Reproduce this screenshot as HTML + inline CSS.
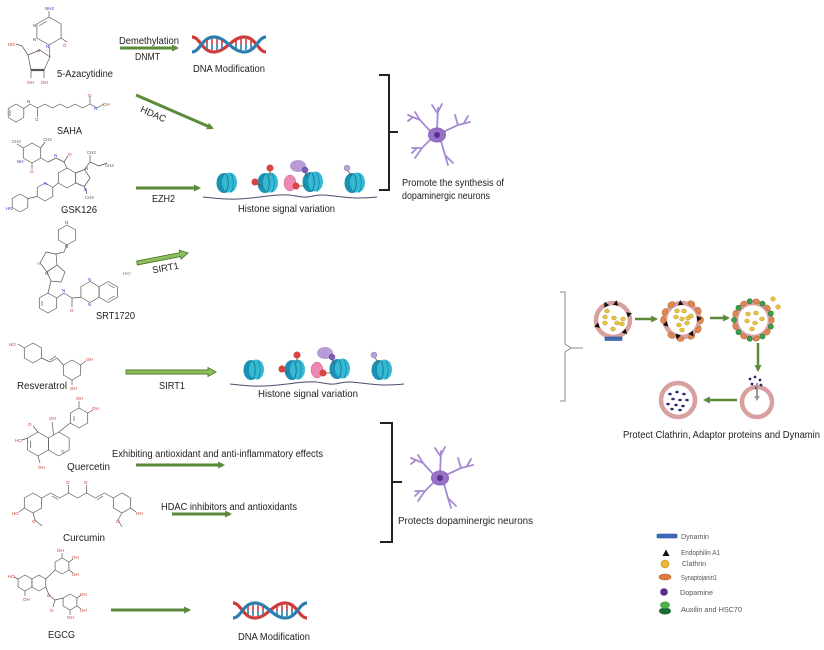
<!DOCTYPE html>
<html><head><meta charset="utf-8"><style>
html,body{margin:0;padding:0;background:#fff;}
svg{display:block;}
text{font-family:"Liberation Sans",Arial,sans-serif;}
</style></head><body>
<svg width="824" height="650" viewBox="0 0 824 650" xmlns="http://www.w3.org/2000/svg">
<defs>
<marker id="ah" viewBox="0 0 10 10" refX="7" refY="5" markerWidth="7" markerHeight="7" markerUnits="userSpaceOnUse" orient="auto"><path d="M0,0 L10,5 L0,10 z" fill="#5a8a3a"/></marker>
<g id="nuc">
 <ellipse cx="-3" cy="0" rx="7.5" ry="10" fill="#1a90b2"/>
 <ellipse cx="2.5" cy="-0.5" rx="7.5" ry="10" fill="#36bad4"/>
 <path d="M-1,-9.5 Q3.5,0 -1,9.5" stroke="#137a9c" stroke-width="1" fill="none"/>
 <path d="M4,-9.5 Q8.5,0 4,9.5" stroke="#1a88aa" stroke-width="0.8" fill="none"/>
</g>
<g id="neuron" stroke="#a58ad2" stroke-width="1.8" stroke-linecap="round" fill="none">
 <path d="M0,-5 L1,-27 M1,-21 L-5,-30 M1,-23 L5,-31"/>
 <path d="M-6,-3 L-17,-15 L-29,-20 M-17,-15 L-22,-23 M-24,-18 L-29,-14"/>
 <path d="M6,-3 L21,-10 L33,-13 M21,-10 L18,-20 M27,-12 L31,-19"/>
 <path d="M-6,4 L-15,13 L-25,13 M-15,13 L-22,23 M-20,13 L-25,18"/>
 <path d="M4,6 L8,20 L11,30 M8,20 L16,28"/>
 <ellipse cx="0" cy="0" rx="8.5" ry="7" fill="#9472c6" stroke="#8a66bf" stroke-width="1"/>
 <circle cx="0" cy="0" r="3" fill="#5b2f8f" stroke="none"/>
</g>
<g id="dna">
 <path d="M0,2 C8,2 10,17 22,17 S40,2 52,2 S66,17 74,17" stroke="#d03a3a" stroke-width="3.2" fill="none"/>
 <path d="M0,17 C8,17 10,2 22,2 S40,17 52,17 S66,2 74,2" stroke="#2a7fb0" stroke-width="3.2" fill="none"/>
 <g stroke-width="1.6">
  <path d="M15,5 V9.5 M20,4 V9.5 M25,4 V9.5 M30,5 V9.5 M44,5 V9.5 M49,4 V9.5 M54,4 V9.5 M59,5 V9.5" stroke="#d03a3a"/>
  <path d="M15,9.5 V14 M20,9.5 V15 M25,9.5 V15 M30,9.5 V14 M44,9.5 V14 M49,9.5 V15 M54,9.5 V15 M59,9.5 V14" stroke="#2a7fb0"/>
 </g>
</g>
<g id="histrow">
 <path d="M0,14 C25,17 35,17 65,13 S95,17 110,13 S140,18 174,14" stroke="#4a4a6a" stroke-width="1" fill="none"/>
 <use href="#nuc" x="24" y="0"/>
 <use href="#nuc" x="65" y="0"/>
 <use href="#nuc" x="110" y="-1"/>
 <use href="#nuc" x="152" y="0"/>
 <path d="M55,1 L59,3 M67,-12 L67,-7" stroke="#555" stroke-width="0.8"/>
 <circle cx="52" cy="-1" r="3.5" fill="#d64541"/>
 <circle cx="67" cy="-15" r="3.5" fill="#d64541"/>
 <ellipse cx="87" cy="0" rx="6" ry="8" fill="#ee88b0" stroke="#c86890" stroke-width="0.5"/>
 <path d="M96,3 L102,3 M102,-10 L105,-6 M145,-12 L149,-7" stroke="#555" stroke-width="0.8"/>
 <circle cx="93" cy="3" r="3.5" fill="#d64541"/>
 <ellipse cx="95" cy="-17" rx="8" ry="6" fill="#b79ad6"/>
 <circle cx="102" cy="-13" r="3" fill="#7e5cb0" stroke="#5a3a90" stroke-width="0.5"/>
 <circle cx="144" cy="-15" r="3" fill="#b7a2d6" stroke="#8a74b0" stroke-width="0.5"/>
</g>
</defs>

<!-- ============ MOLECULES ============ -->
<g stroke="#555" stroke-width="0.7" fill="none" stroke-linejoin="round">
 <!-- 5-Azacytidine -->
 <polygon points="49,17 61.1,24 61.1,38 49,45 36.9,38 36.9,24"/>
 <path d="M49,17 L49,11 M61.1,38 L67,42 M49,45 L50,57 M28,55 L40,50 L50,57 M31,70 L28,55 M44,70 L50,57 M28,55 L22,46 L16,44 M31,70 L31,78 M44,70 L44,78 M39,26 L47,21"/>
 <path d="M31,70 L44,70" stroke-width="2.2"/>
 <!-- SAHA -->
 <polygon points="16,104 23.8,108.5 23.8,117.5 16,122 8.2,117.5 8.2,108.5"/>
 <path d="M23.8,108.5 L30,104 L37.5,108 L45,104 L52.5,108 L60,104 L67.5,108 L75,104 L82.5,108 L90,104 L97,108 L104,104 M37.5,108 L37.5,117 M90,104 L90,97 M10,110 L10,116"/>
 <!-- GSK126 -->
 <polygon points="32,143 40.7,148 40.7,158 32,163 23.3,158 23.3,148"/>
 <path d="M23.3,148 L17,144 M40.7,148 L45,142 M32,163 L32,169 M40.7,158 L48,162 L56,158 L64,162 L67,168 M64,162 L68,156"/>
 <polygon points="67,168 75.7,173 75.7,183 67,188 58.3,183 58.3,173"/>
 <polygon points="75.7,173 84.5,169.5 90,178 84.5,186.5 75.7,183"/>
 <path d="M84.5,169.5 L90,162 L90,155 M90,162 L99,166 L107,163 M84.5,186.5 L87,194 M58.3,183 L52.8,187.5 M37.2,196.5 L27.8,198.5"/>
 <polygon points="45,183 52.8,187.5 52.8,196.5 45,201 37.2,196.5 37.2,187.5"/>
 <polygon points="20,194 27.8,198.5 27.8,207.5 20,212 12.2,207.5 12.2,198.5"/>
 <!-- SRT1720 -->
 <polygon points="67,225 75.7,230 75.7,240 67,245 58.3,240 58.3,230"/>
 <path d="M67,245 L64,252 L56,254"/>
 <polygon points="40,263 46,252 56,254 57,265 47,272"/>
 <polygon points="47,272 57,265 65,272 61,282 51,281"/>
 <path d="M51,281 L48,293"/>
 <polygon points="48,293 56.7,298 56.7,308 48,313 39.3,308 39.3,298"/>
 <path d="M56.7,298 L64,293 L72,298 L72,307 M72,298 L80.9,297.25 M42,301 L42,306"/>
 <polygon points="90,281.5 99.1,286.75 99.1,297.25 90,302.5 80.9,297.25 80.9,286.75"/>
 <polygon points="108.2,281.5 117.3,286.75 117.3,297.25 108.2,302.5 99.1,297.25 99.1,286.75"/>
 <path d="M108.2,284.5 L114.5,288 M114.5,296 L108.2,299.5"/>
 <!-- Resveratrol -->
 <polygon points="33,343 41.7,348 41.7,358 33,363 24.3,358 24.3,348"/>
 <path d="M24.3,348 L18,344 M41.7,358 L50,362 L57,358 L63.3,365 M50,360 L56,356 M80.7,365 L86,361 M72,380 L72,385"/>
 <polygon points="72,360 80.7,365 80.7,375 72,380 63.3,375 63.3,365"/>
 <!-- Quercetin -->
 <polygon points="38,432 48.4,438 48.4,450 38,456 27.6,450 27.6,438"/>
 <polygon points="58.8,432 69.2,438 69.2,450 58.8,456 48.4,450 48.4,438"/>
 <polygon points="79,408 87.7,413 87.7,423 79,428 70.3,423 70.3,413"/>
 <path d="M58.8,432 L70.3,423 M38,432 L33,426 M53.6,435 L52,422 M79,408 L79,401 M87.7,413 L93,410 M27.6,438 L22,440 M38,456 L40,463 M30.5,441 L30.5,448 M74,416 L74,421"/>
 <!-- Curcumin -->
 <polygon points="33,493 41.7,498 41.7,508 33,513 24.3,508 24.3,498"/>
 <polygon points="122,493 130.7,498 130.7,508 122,513 113.3,508 113.3,498"/>
 <path d="M41.7,498 L50.65,493 L59.6,498 L68.55,493 L77.5,498 L86.45,493 L95.4,498 L104.35,493 L113.3,498 M52,496 L58,499.5 M97,500 L103,496 M68.55,493 L68.55,485 M86.45,493 L86.45,485 M24.3,508 L19,512 M33,513 L35,520 L42,526 M130.7,508 L136,512 M122,513 L118,520 L122,527"/>
 <!-- EGCG -->
 <polygon points="25,575 31.9,579 31.9,587 25,591 18.1,587 18.1,579"/>
 <polygon points="38.9,575 45.8,579 45.8,587 38.9,591 31.9,587 31.9,579"/>
 <polygon points="62,558 68.9,562 68.9,570 62,574 55.1,570 55.1,562"/>
 <polygon points="70,594 76.9,598 76.9,606 70,610 63.1,606 63.1,598"/>
 <path d="M45.8,579 L55.1,570 M45.8,587 L49,595 L55,600 L63.1,598 M55,600 L53,607 M62,558 L62,553 M68.9,562 L73,559 M68.9,570 L73,573 M76.9,598 L81,595 M76.9,606 L81,609 M70,610 L70,615 M18.1,579 L14,577 M25,591 L25,596"/>
</g>
<g font-size="4.5" fill="#c0392b">
 <text x="63" y="47">O</text><text x="8" y="46">HO</text><text x="27" y="84">OH</text><text x="41" y="84">OH</text><text x="37" y="52">O</text>
 <text x="35" y="121">O</text><text x="88" y="97">O</text><text x="103" y="106">OH</text>
 <text x="30" y="173">O</text><text x="68" y="156">O</text>
 <text x="70" y="312">O</text>
 <text x="9" y="346">HO</text><text x="86" y="361">OH</text><text x="70" y="390">OH</text>
 <text x="28" y="426">O</text><text x="49" y="420">OH</text><text x="76" y="400">OH</text><text x="92" y="410">OH</text><text x="15" y="442">HO</text><text x="38" y="469">OH</text><text x="61" y="453">O</text>
 <text x="66" y="484">O</text><text x="84" y="484">O</text><text x="12" y="515">HO</text><text x="136" y="515">OH</text><text x="32" y="523">O</text><text x="116" y="523">O</text>
 <text x="57" y="552">OH</text><text x="72" y="559">OH</text><text x="72" y="576">OH</text><text x="80" y="596">OH</text><text x="80" y="612">OH</text><text x="67" y="619">OH</text><text x="8" y="578">HO</text><text x="23" y="601">OH</text><text x="47" y="597">O</text><text x="50" y="612">O</text>
</g>
<g font-size="4.5" fill="#2f3fbf">
 <text x="45" y="10">NH2</text><text x="33" y="27">N</text><text x="33" y="41">N</text><text x="46" y="48">N</text>
 <text x="27" y="103">N</text><text x="94" y="110">N</text>
 <text x="17" y="163">NH</text><text x="54" y="157">N</text><text x="85" y="170">N</text><text x="84" y="191">N</text><text x="6" y="210">HN</text><text x="44" y="185">N</text>
 <text x="65" y="224">N</text><text x="65" y="248">N</text><text x="62" y="292">N</text><text x="88" y="281">N</text><text x="88" y="306">N</text><text x="45" y="275">N</text>
</g>
<g font-size="4.3" fill="#555">
 <text x="12" y="143">CH3</text><text x="43" y="141">CH3</text><text x="87" y="154">CH3</text><text x="105" y="167">CH3</text><text x="85" y="199">CH3</text><text x="37" y="265" fill="#b8a020">S</text>
</g>
<text x="123" y="275" font-size="4.5" fill="#3a9a3a">HCl</text>

<!-- ============ LABELS LEFT ============ -->
<g font-size="10" fill="#222">
 <text x="57" y="77" textLength="56" lengthAdjust="spacingAndGlyphs">5-Azacytidine</text>
 <text x="57" y="134" textLength="25" lengthAdjust="spacingAndGlyphs">SAHA</text>
 <text x="61" y="213" textLength="36" lengthAdjust="spacingAndGlyphs">GSK126</text>
 <text x="96" y="319" textLength="39" lengthAdjust="spacingAndGlyphs">SRT1720</text>
 <text x="17" y="389" textLength="50" lengthAdjust="spacingAndGlyphs">Resveratrol</text>
 <text x="67" y="470" textLength="43" lengthAdjust="spacingAndGlyphs">Quercetin</text>
 <text x="63" y="541" textLength="42" lengthAdjust="spacingAndGlyphs">Curcumin</text>
 <text x="48" y="638" textLength="27" lengthAdjust="spacingAndGlyphs">EGCG</text>

 <text x="119" y="44" textLength="60" lengthAdjust="spacingAndGlyphs">Demethylation</text>
 <text x="135" y="60" textLength="25" lengthAdjust="spacingAndGlyphs">DNMT</text>
 <text x="193" y="72" textLength="72" lengthAdjust="spacingAndGlyphs">DNA Modification</text>
 <text transform="translate(152,117) rotate(24)" text-anchor="middle" font-size="9.5">HDAC</text>
 <text x="152" y="202" textLength="23" lengthAdjust="spacingAndGlyphs">EZH2</text>
 <text x="238" y="212" textLength="97" lengthAdjust="spacingAndGlyphs">Histone signal variation</text>
 <text x="402" y="186" textLength="102" lengthAdjust="spacingAndGlyphs">Promote the synthesis of</text>
 <text x="402" y="199" textLength="88" lengthAdjust="spacingAndGlyphs">dopaminergic neurons</text>
 <text transform="translate(166,271) rotate(-10)" text-anchor="middle" font-size="9.5">SIRT1</text>
 <text x="159" y="389" textLength="26" lengthAdjust="spacingAndGlyphs">SIRT1</text>
 <text x="258" y="397" textLength="100" lengthAdjust="spacingAndGlyphs">Histone signal variation</text>
 <text x="112" y="457" textLength="211" lengthAdjust="spacingAndGlyphs">Exhibiting antioxidant and anti-inflammatory effects</text>
 <text x="161" y="510" textLength="136" lengthAdjust="spacingAndGlyphs">HDAC inhibitors and antioxidants</text>
 <text x="398" y="524" textLength="135" lengthAdjust="spacingAndGlyphs">Protects dopaminergic neurons</text>
 <text x="238" y="640" textLength="72" lengthAdjust="spacingAndGlyphs">DNA Modification</text>
 <text x="623" y="438" textLength="197" lengthAdjust="spacingAndGlyphs">Protect Clathrin, Adaptor proteins and Dynamin</text>
</g>

<!-- ============ ARROWS ============ -->
<g stroke="#5a8a3a" stroke-width="3" marker-end="url(#ah)">
 <line x1="120" y1="48" x2="177" y2="48"/>
 <line x1="136" y1="95" x2="212" y2="128"/>
 <line x1="136" y1="188" x2="199" y2="188"/>
 <line x1="136" y1="465" x2="223" y2="465"/>
 <line x1="172" y1="514" x2="230" y2="514"/>
 <line x1="111" y1="610" x2="189" y2="610"/>
 <line x1="635" y1="319" x2="656" y2="319" stroke-width="2.5"/>
 <line x1="710" y1="318" x2="728" y2="318" stroke-width="2.5"/>
 <line x1="758" y1="343" x2="758" y2="370" stroke-width="2.5"/>
 <line x1="737" y1="400" x2="705" y2="400" stroke-width="2.5"/>
</g>
<path d="M126,370 L208,370 L208,367.5 L216,372 L208,376.5 L208,374 L126,374 Z" fill="#8dbd5d" stroke="#4d7b2b" stroke-width="0.9"/>
<path transform="translate(137,263) rotate(-11)" d="M0,-2 L44,-2 L44,-4.5 L52,0 L44,4.5 L44,2 L0,2 Z" fill="#8dbd5d" stroke="#4d7b2b" stroke-width="0.9"/>

<!-- ============ DNA ICONS ============ -->
<use href="#dna" x="192" y="35"/>
<use href="#dna" x="233" y="601"/>

<!-- ============ HISTONES ============ -->
<use href="#histrow" x="203" y="183"/>
<use href="#histrow" x="230" y="370"/>

<!-- ============ BRACKETS ============ -->
<g stroke="#222" stroke-width="2" fill="none">
 <path d="M379,75 H389 V190 H379 M389,132 H398"/>
 <path d="M380,423 H392 V542 H380 M392,482 H402"/>
</g>
<path d="M560,292 H565 V344 L571,348 L565,352 V401 H560 M571,348 H583" stroke="#8a8a8a" stroke-width="1" fill="none"/>

<!-- ============ NEURONS ============ -->
<use href="#neuron" x="437" y="135"/>
<use href="#neuron" x="440" y="478"/>

<!-- ============ VESICLES ============ -->
<g transform="translate(613,320)">
 <circle r="17" fill="#fff" stroke="#d8a09e" stroke-width="4.5"/>
 <g fill="#e6c440" stroke="#b8922a" stroke-width="0.5">
  <ellipse cx="-6" cy="-9" rx="2.4" ry="2"/><ellipse cx="-8" cy="-3" rx="2.4" ry="2"/><ellipse cx="1" cy="-2" rx="2.4" ry="2"/><ellipse cx="10" cy="-1" rx="2.4" ry="2"/><ellipse cx="4" cy="3" rx="2.4" ry="2"/><ellipse cx="9" cy="4" rx="2.4" ry="2"/><ellipse cx="0" cy="9" rx="2.4" ry="2"/><ellipse cx="-8" cy="3" rx="2.4" ry="2"/>
 </g>
 <g fill="#111">
  <path transform="rotate(-115) translate(17,0) rotate(90)" d="M0,-3 L2.8,2 L-2.8,2 Z"/>
  <path transform="rotate(-80) translate(17,0) rotate(90)" d="M0,-3 L2.8,2 L-2.8,2 Z"/>
  <path transform="rotate(-20) translate(17,0) rotate(90)" d="M0,-3 L2.8,2 L-2.8,2 Z"/>
  <path transform="rotate(160) translate(17,0) rotate(90)" d="M0,-3 L2.8,2 L-2.8,2 Z"/>
  <path transform="rotate(45) translate(17,0) rotate(90)" d="M0,-3 L2.8,2 L-2.8,2 Z"/>
 </g>
 <rect x="-8" y="17" width="17" height="3.5" fill="#3d6cb8" stroke="#24478a" stroke-width="0.5"/>
</g>
<g transform="translate(682,320)">
 <circle r="17" fill="#fff" stroke="#d8a09e" stroke-width="4.5"/>
 <g fill="#e08850" stroke="#b0602e" stroke-width="0.5">
  <ellipse transform="rotate(0) translate(19,0)" rx="2.5" ry="3.6"/><ellipse transform="rotate(30) translate(19,0)" rx="2.5" ry="3.6"/><ellipse transform="rotate(60) translate(19,0)" rx="2.5" ry="3.6"/><ellipse transform="rotate(95) translate(19,0)" rx="2.5" ry="3.6"/><ellipse transform="rotate(125) translate(19,0)" rx="2.5" ry="3.6"/><ellipse transform="rotate(180) translate(19,0)" rx="2.5" ry="3.6"/><ellipse transform="rotate(205) translate(19,0)" rx="2.5" ry="3.6"/><ellipse transform="rotate(235) translate(19,0)" rx="2.5" ry="3.6"/><ellipse transform="rotate(300) translate(19,0)" rx="2.5" ry="3.6"/><ellipse transform="rotate(330) translate(19,0)" rx="2.5" ry="3.6"/>
 </g>
 <g fill="#e6c440" stroke="#b8922a" stroke-width="0.5">
  <ellipse cx="-5" cy="-9" rx="2.4" ry="2"/><ellipse cx="2" cy="-9" rx="2.4" ry="2"/><ellipse cx="-6" cy="-3" rx="2.4" ry="2"/><ellipse cx="0" cy="-1" rx="2.4" ry="2"/><ellipse cx="6" cy="-2" rx="2.4" ry="2"/><ellipse cx="9" cy="-4" rx="2.4" ry="2"/><ellipse cx="5" cy="3" rx="2.4" ry="2"/><ellipse cx="-3" cy="5" rx="2.4" ry="2"/><ellipse cx="0" cy="10" rx="2.4" ry="2"/>
 </g>
 <g fill="#111">
  <path transform="rotate(-95) translate(17,0) rotate(90)" d="M0,-3 L2.8,2 L-2.8,2 Z"/>
  <path transform="rotate(165) translate(17,0) rotate(90)" d="M0,-3 L2.8,2 L-2.8,2 Z"/>
  <path transform="rotate(105) translate(17,0) rotate(90)" d="M0,-3 L2.8,2 L-2.8,2 Z"/>
  <path transform="rotate(55) translate(17,0) rotate(90)" d="M0,-3 L2.8,2 L-2.8,2 Z"/>
  <path transform="rotate(-5) translate(17,0) rotate(90)" d="M0,-3 L2.8,2 L-2.8,2 Z"/>
 </g>
</g>
<g transform="translate(753,320)">
 <circle r="17" fill="#fff" stroke="#d8a09e" stroke-width="4.5"/>
 <g fill="#e08850" stroke="#b0602e" stroke-width="0.5">
  <ellipse transform="rotate(0) translate(19,0)" rx="2.3" ry="3.3"/><ellipse transform="rotate(40) translate(19,0)" rx="2.3" ry="3.3"/><ellipse transform="rotate(80) translate(19,0)" rx="2.3" ry="3.3"/><ellipse transform="rotate(120) translate(19,0)" rx="2.3" ry="3.3"/><ellipse transform="rotate(160) translate(19,0)" rx="2.3" ry="3.3"/><ellipse transform="rotate(200) translate(19,0)" rx="2.3" ry="3.3"/><ellipse transform="rotate(240) translate(19,0)" rx="2.3" ry="3.3"/><ellipse transform="rotate(280) translate(19,0)" rx="2.3" ry="3.3"/><ellipse transform="rotate(320) translate(19,0)" rx="2.3" ry="3.3"/>
 </g>
 <g fill="#3e9e4a" stroke="#1e6b30" stroke-width="0.5">
  <circle transform="rotate(20) translate(19,0)" r="2.6"/><circle transform="rotate(60) translate(19,0)" r="2.6"/><circle transform="rotate(100) translate(19,0)" r="2.6"/><circle transform="rotate(140) translate(19,0)" r="2.6"/><circle transform="rotate(180) translate(19,0)" r="2.6"/><circle transform="rotate(220) translate(19,0)" r="2.6"/><circle transform="rotate(260) translate(19,0)" r="2.6"/><circle transform="rotate(300) translate(19,0)" r="2.6"/><circle transform="rotate(340) translate(19,0)" r="2.6"/>
 </g>
 <g fill="#e6c440" stroke="#b8922a" stroke-width="0.5">
  <ellipse cx="-5" cy="-6" rx="2.4" ry="2"/><ellipse cx="3" cy="-7" rx="2.4" ry="2"/><ellipse cx="-6" cy="1" rx="2.4" ry="2"/><ellipse cx="9" cy="-1" rx="2.4" ry="2"/><ellipse cx="2" cy="3" rx="2.4" ry="2"/><ellipse cx="-1" cy="9" rx="2.4" ry="2"/><ellipse cx="20" cy="-21" rx="2.4" ry="2.2"/><ellipse cx="25" cy="-13" rx="2.4" ry="2.2"/>
 </g>
</g>
<circle cx="757" cy="402" r="15" fill="#fff" stroke="#d8a09e" stroke-width="4.5"/>
<g fill="#2f2a70">
 <circle cx="750" cy="379" r="1.4"/><circle cx="755" cy="377" r="1.4"/><circle cx="760" cy="380" r="1.4"/><circle cx="752" cy="384" r="1.4"/><circle cx="761" cy="385" r="1.4"/><circle cx="756" cy="388" r="1.2"/>
</g>
<path d="M757,383 V397" stroke="#999" stroke-width="2"/>
<path d="M754,396 L757,401 L760,396 Z" fill="#999"/>
<circle cx="678" cy="400" r="17" fill="#fff" stroke="#d8a09e" stroke-width="4.5"/>
<g fill="#2f2a70">
 <ellipse cx="670" cy="394" rx="1.8" ry="1.3"/><ellipse cx="677" cy="392" rx="1.8" ry="1.3"/><ellipse cx="684" cy="394" rx="1.8" ry="1.3"/><ellipse cx="673" cy="399" rx="1.8" ry="1.3"/><ellipse cx="680" cy="400" rx="1.8" ry="1.3"/><ellipse cx="687" cy="400" rx="1.8" ry="1.3"/><ellipse cx="668" cy="404" rx="1.8" ry="1.3"/><ellipse cx="676" cy="405" rx="1.8" ry="1.3"/><ellipse cx="683" cy="406" rx="1.8" ry="1.3"/><ellipse cx="672" cy="409" rx="1.8" ry="1.3"/><ellipse cx="680" cy="410" rx="1.8" ry="1.3"/>
</g>

<!-- ============ LEGEND ============ -->
<rect x="657" y="534" width="20" height="4" rx="1" fill="#3d6cb8" stroke="#24478a" stroke-width="0.6"/>
<path d="M662.5,556 L666,549.5 L669.5,556 Z" fill="#111"/>
<circle cx="665" cy="564" r="4" fill="#eab830" stroke="#b98a1a" stroke-width="0.6"/>
<ellipse cx="665" cy="577" rx="6" ry="3" fill="#e07a40" stroke="#b05a28" stroke-width="0.6"/>
<circle cx="664" cy="592" r="3.5" fill="#5a2d8a" stroke="#3a1a60" stroke-width="0.5"/>
<ellipse cx="665" cy="611" rx="6" ry="3.5" fill="#1e6b3a"/>
<ellipse cx="665" cy="605" rx="5" ry="3.5" fill="#4cae4c"/>
<g font-size="7" fill="#555">
 <text x="681" y="539" textLength="28" lengthAdjust="spacingAndGlyphs">Dynamin</text>
 <text x="681" y="555" textLength="39" lengthAdjust="spacingAndGlyphs">Endophilin A1</text>
 <text x="682" y="566" textLength="24" lengthAdjust="spacingAndGlyphs">Clathrin</text>
 <text x="681" y="580" textLength="36" lengthAdjust="spacingAndGlyphs">Synaptojanin1</text>
 <text x="680" y="595" textLength="33" lengthAdjust="spacingAndGlyphs">Dopamine</text>
 <text x="681" y="612" textLength="61" lengthAdjust="spacingAndGlyphs">Auxilin  and HSC70</text>
</g>
</svg>
</body></html>
